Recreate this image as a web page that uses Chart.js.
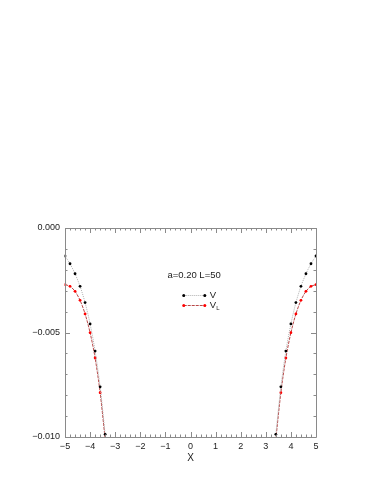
<!DOCTYPE html>
<html>
<head>
<meta charset="utf-8">
<style>
html,body{margin:0;padding:0;background:#fff;}
#wrap{width:382px;height:494px;position:relative;}
</style>
<script src="https://cdn.jsdelivr.net/npm/chart.js@4.4.1/dist/chart.umd.min.js"></script>
</head>
<body>
<div id="wrap"><canvas id="c" width="382" height="494"></canvas></div>
<script>
// x positions (left branch, right branch)
const xLeft  = [-5.0, -4.8, -4.6, -4.4, -4.2, -4.0, -3.8, -3.6, -3.4];
const xRight = [3.4, 3.6, 3.8, 4.0, 4.2, 4.4, 4.6, 4.8, 5.0];
// V values
const vLeft  = [-0.00134, -0.00171, -0.00219, -0.00279, -0.00357, -0.00459, -0.00589, -0.00760, -0.00987];
const vRight = [-0.00987, -0.00760, -0.00589, -0.00459, -0.00357, -0.00279, -0.00219, -0.00171, -0.00134];
// V_L values
const vlLeft  = [-0.00271, -0.00279, -0.00303, -0.00346, -0.00411, -0.00501, -0.00622, -0.00788, -0.01010];
const vlRight = [-0.01010, -0.00788, -0.00622, -0.00501, -0.00411, -0.00346, -0.00303, -0.00279, -0.00271];
const xTicks = [-5, -4, -3, -2, -1, 0, 1, 2, 3, 4, 5];
const yTicks = [-0.010, -0.005, 0.000];
const annotation = 'a=0.20 L=50';
const seriesNames = ['V', 'V_L'];

function pts(xs, ys) { return xs.map((x, i) => ({x: x, y: ys[i]})); }
function joined(xl, yl, xr, yr) {
  return pts(xl, yl).concat([{x: 0, y: null}], pts(xr, yr));
}
const fmt = (v, d) => (v < -1e-12 ? '\u2212' : '') + Math.abs(v).toFixed(d);

const FONT = "'Liberation Sans', Arial, Helvetica, sans-serif";
const AXIS = '#8a8a8a';

const framePlugin = {
  id: 'frame',
  afterDatasetsDraw(chart) {
    const ctx = chart.ctx, a = chart.chartArea;
    const xs = chart.scales.x, ys = chart.scales.y;
    ctx.save();
    ctx.strokeStyle = AXIS;
    ctx.lineWidth = 1;
    ctx.beginPath();
    ctx.rect(Math.round(a.left) + 0.5, Math.round(a.top) + 0.5, Math.round(a.right - a.left), Math.round(a.bottom - a.top));
    ctx.stroke();
    // x ticks (major every 1, minor every 0.2)
    ctx.beginPath();
    for (let k = -25; k <= 25; k++) {
      const v = k / 5;
      const px = Math.round(xs.getPixelForValue(v)) + 0.5;
      const len = (k % 5 === 0) ? 5 : 2.5;
      ctx.moveTo(px, a.bottom); ctx.lineTo(px, a.bottom - len);
      ctx.moveTo(px, a.top); ctx.lineTo(px, a.top + len);
    }
    // y ticks (major every 0.005, minor every 0.001)
    for (let k = 0; k <= 10; k++) {
      const v = -k / 1000;
      const py = Math.round(ys.getPixelForValue(v)) + 0.5;
      const len = (k % 5 === 0) ? 5 : 2.5;
      ctx.moveTo(a.left, py); ctx.lineTo(a.left + len, py);
      ctx.moveTo(a.right, py); ctx.lineTo(a.right - len, py);
    }
    ctx.stroke();

    // annotation text
    ctx.fillStyle = '#222';
    ctx.font = '9.5px ' + FONT;
    ctx.textBaseline = 'middle';
    ctx.textAlign = 'left';
    ctx.fillText(annotation, xs.getPixelForValue(-0.92), ys.getPixelForValue(-0.00225));

    // legend
    const lx0 = xs.getPixelForValue(-0.27), lx1 = xs.getPixelForValue(0.57);
    const rows = [ys.getPixelForValue(-0.00322), ys.getPixelForValue(-0.0037)];
    chart.data.datasets.forEach((ds, i) => {
      const y = Math.round(rows[i]) + 0.5;
      ctx.strokeStyle = ds.borderColor;
      ctx.setLineDash(ds.borderDash || []);
      ctx.beginPath(); ctx.moveTo(lx0, y); ctx.lineTo(lx1, y); ctx.stroke();
      ctx.setLineDash([]);
      ctx.fillStyle = ds.pointBackgroundColor;
      [lx0, lx1].forEach(px => { ctx.beginPath(); ctx.arc(px, y, 1.5, 0, Math.PI * 2); ctx.fill(); });
      ctx.fillStyle = '#222';
      const parts = seriesNames[i].split('_');
      ctx.font = '9.5px ' + FONT;
      ctx.fillText(parts[0], lx1 + 5, y);
      if (parts[1]) {
        const w = ctx.measureText(parts[0]).width;
        ctx.font = '6px ' + FONT;
        ctx.fillText(parts[1], lx1 + 5 + w, y + 3);
      }
    });
    ctx.restore();
  }
};

new Chart(document.getElementById('c'), {
  type: 'line',
  data: {
    datasets: [
      {
        label: 'V',
        data: joined(xLeft, vLeft, xRight, vRight),
        borderColor: '#b0b0b0',
        borderWidth: 1,
        borderDash: [1, 1],
        pointBackgroundColor: '#000',
        pointBorderColor: '#000',
        pointRadius: 1.4,
        pointBorderWidth: 0,
        tension: 0.3,
        spanGaps: false,
        clip: 0.5
      },
      {
        label: 'V_L',
        data: joined(xLeft, vlLeft, xRight, vlRight),
        borderColor: '#b84848',
        borderWidth: 1,
        borderDash: [3, 1],
        pointBackgroundColor: '#ff0000',
        pointBorderColor: '#ff0000',
        pointRadius: 1.4,
        pointBorderWidth: 0,
        tension: 0.3,
        spanGaps: false,
        clip: 0.5
      }
    ]
  },
  options: {
    responsive: false,
    animation: false,
    devicePixelRatio: 1,
    layout: { padding: { left: 0, top: 228, right: 66, bottom: 26 } },
    plugins: { legend: { display: false }, tooltip: { enabled: false } },
    scales: {
      x: {
        type: 'linear',
        min: -5, max: 5,
        afterFit: s => { s.height = 31; },
        afterBuildTicks: s => { s.ticks = xTicks.map(v => ({value: v})); },
        grid: { display: false, drawTicks: false },
        border: { display: false },
        ticks: { color: '#222', font: { family: FONT, size: 9 }, padding: 4, maxRotation: 0, autoSkip: false, callback: v => fmt(v, 0) },
        title: { display: true, text: 'X', color: '#222', font: { family: FONT, size: 10 }, padding: { top: 0, bottom: 4 } }
      },
      y: {
        type: 'linear',
        min: -0.010, max: 0,
        afterFit: s => { s.width = 65; },
        afterBuildTicks: s => { s.ticks = yTicks.map(v => ({value: v})); },
        grid: { display: false, drawTicks: false },
        border: { display: false },
        ticks: { color: '#222', font: { family: FONT, size: 9 }, padding: 5, autoSkip: false, callback: v => fmt(v, 3) }
      }
    }
  },
  plugins: [framePlugin]
});
</script>
</body>
</html>
